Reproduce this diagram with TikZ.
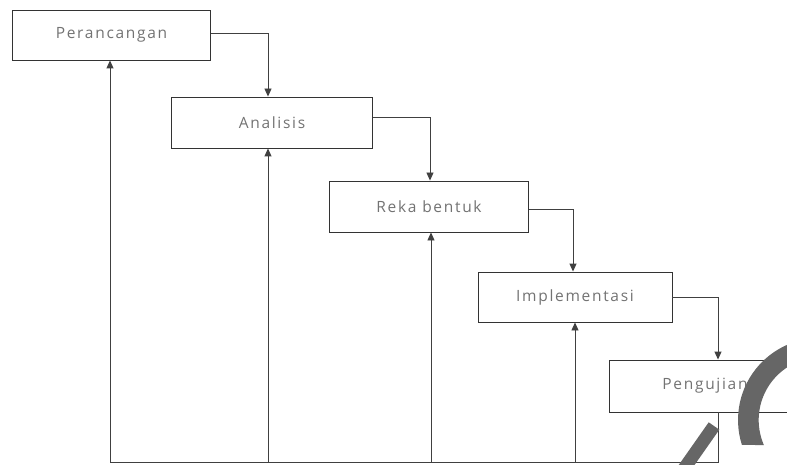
\documentclass[tikz,border=0pt]{standalone}
\usepackage{fontspec}
\setmainfont{Open Sans}[LetterSpace=11]
\usetikzlibrary{arrows.meta}
\begin{document}
\begin{tikzpicture}[x=1pt,y=-1pt,
  box/.style={draw=black!80, line width=0.9pt, fill=white, text=black!55, inner sep=0pt,
    font=\fontsize{15.5}{18}\selectfont},
  conn/.style={draw=black!75, line width=0.9pt},
  arr/.style={conn, -{Triangle[length=8pt,width=7pt]}},
  wm/.style={fill=black!60}]
\useasboundingbox (0,0) rectangle (787,465);
\clip (0,0) rectangle (787,465);
\fill[white] (0,0) rectangle (787,465);

\node[box, minimum width=198pt, minimum height=50pt] (p1) at (111.5,35) {Perancangan};
\node[box, minimum width=201pt, minimum height=51pt] (p2) at (272,122.5) {Analisis};
\node[box, minimum width=199pt, minimum height=51pt] (p3) at (429,206.5) {Reka bentuk};
\node[box, minimum width=194pt, minimum height=50pt] (p4) at (575,297) {Implementasi};
\node[box, minimum width=192pt, minimum height=52pt] (p5) at (705,386) {Pengujian};

\coordinate (k1) at (268,33);
\coordinate (k2) at (430,117);
\coordinate (k3) at (573,209);
\coordinate (k4) at (718,297);
\draw[arr] (p1.east |- k1) -- (k1) -- (k1 |- p2.north);
\draw[arr] (p2.east |- k2) -- (k2) -- (k2 |- p3.north);
\draw[arr] (p3.east |- k3) -- (k3) -- (k3 |- p4.north);
\draw[arr] (p4.east |- k4) -- (k4) -- (k4 |- p5.north);

\coordinate (r0) at (718,462);
\coordinate (r1) at (110,462);
\coordinate (r2) at (268,462);
\coordinate (r3) at (431,462);
\coordinate (r4) at (575,462);
\draw[conn] (p5.south -| r0) -- (r0) -- (r1);
\draw[arr] (r1) -- (r1 |- p1.south);
\draw[arr] (r2) -- (r2 |- p2.south);
\draw[arr] (r3) -- (r3 |- p3.south);
\draw[arr] (r4) -- (r4 |- p4.south);

% watermark fragments
\fill[wm] (741.9,444.9) arc[start angle=162.3, end angle=275, radius=82]
  -- ++(0,19) arc[start angle=275, end angle=156.6, radius=63] -- cycle;
\fill[wm] (708.7,422.3) -- (719.3,429.7) -- (684.9,478.7) -- (674.3,471.3) -- cycle;
\end{tikzpicture}
\end{document}
